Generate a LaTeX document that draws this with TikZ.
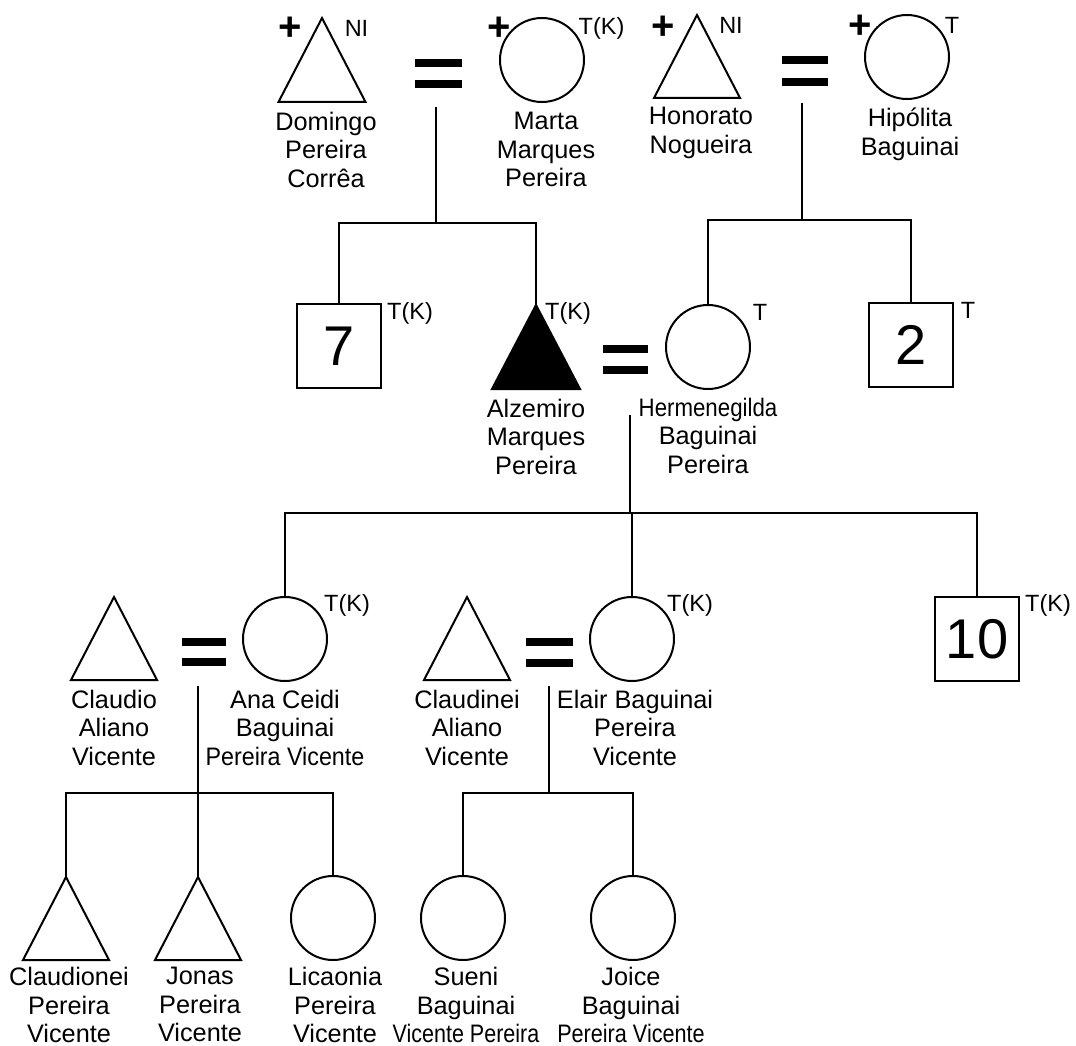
\documentclass[tikz,border=0pt]{standalone}
\usepackage{fontspec}
\setmainfont{Liberation Sans}
\usepackage{graphicx}
\begin{document}
\begin{tikzpicture}[x=1pt,y=-1pt,
  sym/.style={draw,line width=2pt,line join=miter},
  circ/.style={circle,draw,line width=2pt,minimum size=84pt,inner sep=0pt},
  sq/.style={rectangle,draw,line width=1.6pt,minimum size=84pt,inner sep=0pt,font=\fontsize{56}{56}\selectfont},
  lnk/.style={line width=1.8pt},
  eqbar/.style={fill=black},
  pname/.style={anchor=north,align=center,inner sep=0pt,font=\fontsize{25.3}{28.5}\selectfont},
  tag/.style={inner sep=0pt,font=\fontsize{23.5}{23.5}\selectfont},
  dead/.style={inner sep=0pt,font=\fontsize{40}{40}\selectfont\bfseries}
]
\useasboundingbox (0,0) rectangle (1076,1046);

% ---------- generation 1 ----------
\coordinate (dom) at (322,18);
\draw[sym] (dom) -- ++(43.5,84) -- ++(-87,0) -- cycle;
\node[dead] (pdom) at (290,28.5) {+};
\node[tag] (tdom) at (356.5,28.5) {NI};
\node[pname] (Ldom) at (326,111.9) {Domingo\\Pereira\\Corrêa};
\fill[eqbar] (415,59) rectangle (462,67);
\fill[eqbar] (415,80) rectangle (462,88);
\node[circ] (marta) at (542,60) {};
\node[dead] (pmarta) at (499,28.5) {+};
\node[tag] (tmarta) at (601.5,28.5) {T(K)};
\node[pname] (Lmarta) at (546,111.9) {Marta\\Marques\\Pereira};

\coordinate (hon) at (697,15);
\draw[sym] (hon) -- ++(43,83) -- ++(-86,0) -- cycle;
\node[dead] (phon) at (663,28) {+};
\node[tag] (thon) at (731,25) {NI};
\node[pname] (Lhon) at (701,106.9) {Honorato\\Nogueira};
\fill[eqbar] (782,56) rectangle (828,64);
\fill[eqbar] (782,78) rectangle (828,86);
\node[circ] (hip) at (907,57) {};
\node[dead] (phip) at (860,27) {+};
\node[tag] (thip) at (952,25) {T};
\node[pname] (Lhip) at (910,107.9) {Hipólita\\Baguinai};

% ---------- generation 2 ----------
\node[sq] (s7) at (339,346) {7};
\node[tag] (ts7) at (410,313) {T(K)};
\coordinate (alz) at (536,305);
\draw[sym,fill=black] (alz) -- ++(44,84) -- ++(-88,0) -- cycle;
\node[tag] (talz) at (568,313) {T(K)};
\node[pname] (Lalz) at (536,398.9) {Alzemiro\\Marques\\Pereira};
\fill[eqbar] (603,345) rectangle (648,353);
\fill[eqbar] (603,366) rectangle (648,374);
\node[circ] (herm) at (708,347) {};
\node[tag] (therm) at (760,312) {T};
\node[pname] (Lherm) at (708,397.9) {\scalebox{0.88}[1]{Hermenegilda}\\Baguinai\\Pereira};
\node[sq] (s2) at (911,345) {2};
\node[tag] (ts2) at (968,310) {T};

% ---------- generation 3 ----------
\coordinate (cla) at (114,597);
\draw[sym] (cla) -- ++(43,83) -- ++(-86,0) -- cycle;
\node[pname] (Lcla) at (114,689.9) {Claudio\\Aliano\\Vicente};
\fill[eqbar] (182,638) rectangle (226,645.5);
\fill[eqbar] (182,658) rectangle (226,666);
\node[circ] (ana) at (285,639) {};
\node[tag] (tana) at (347,605) {T(K)};
\node[pname] (Lana) at (285,689.9) {Ana Ceidi\\Baguinai\\\scalebox{0.92}[1]{Pereira Vicente}};

\coordinate (clai) at (467,597);
\draw[sym] (clai) -- ++(43,83) -- ++(-86,0) -- cycle;
\node[pname] (Lclai) at (467,689.9) {Claudinei\\Aliano\\Vicente};
\fill[eqbar] (526,638) rectangle (573,645.5);
\fill[eqbar] (526,659) rectangle (573,667);
\node[circ] (elair) at (632,639) {};
\node[tag] (telair) at (690,605) {T(K)};
\node[pname] (Lelair) at (635,689.9) {Elair Baguinai\\Pereira\\Vicente};

\node[sq] (s10) at (977,639) {10};
\node[tag] (ts10) at (1048,605) {T(K)};

% ---------- generation 4 ----------
\coordinate (cln) at (66,877);
\draw[sym] (cln) -- ++(43,83) -- ++(-86,0) -- cycle;
\node[pname] (Lcln) at (69,967) {Claudionei\\Pereira\\Vicente};
\coordinate (jon) at (198,877);
\draw[sym] (jon) -- ++(43,83) -- ++(-86,0) -- cycle;
\node[pname] (Ljon) at (200,967) {Jonas\\Pereira\\Vicente};
\node[circ] (lic) at (333,918) {};
\node[pname] (Llic) at (335,967) {Licaonia\\Pereira\\Vicente};
\node[circ] (sue) at (463,918) {};
\node[pname] (Lsue) at (466,967) {Sueni\\Baguinai\\\scalebox{0.85}[1]{Vicente Pereira}};
\node[circ] (joi) at (633,918) {};
\node[pname] (Ljoi) at (631,967) {Joice\\Baguinai\\\scalebox{0.855}[1]{Pereira Vicente}};

% ---------- connectors ----------
\coordinate (m1) at (436,107);
\coordinate (b1) at (436,223);
\draw[lnk] (m1) -- (b1);
\draw[lnk] (s7.north) |- (b1);
\draw[lnk] (alz) |- (b1);

\coordinate (m2) at (802,103);
\coordinate (b2) at (802,220);
\draw[lnk] (m2) -- (b2);
\draw[lnk] (herm.north) |- (b2);
\draw[lnk] (s2.north) |- (b2);

\coordinate (m3) at (630,415);
\coordinate (b3) at (630,513);
\draw[lnk] (m3) -- (b3);
\draw[lnk] (ana.north) |- (b3);
\draw[lnk] (elair.north) |- (b3);
\draw[lnk] (s10.north) |- (b3);

\coordinate (m4) at (198,686);
\coordinate (b4) at (198,793);
\draw[lnk] (m4) -- (b4);
\draw[lnk] (cln) |- (b4);
\draw[lnk] (jon) -- (b4);
\draw[lnk] (lic.north) |- (b4);

\coordinate (m5) at (549,686);
\coordinate (b5) at (549,793);
\draw[lnk] (m5) -- (b5);
\draw[lnk] (sue.north) |- (b5);
\draw[lnk] (joi.north) |- (b5);
\end{tikzpicture}
\end{document}
